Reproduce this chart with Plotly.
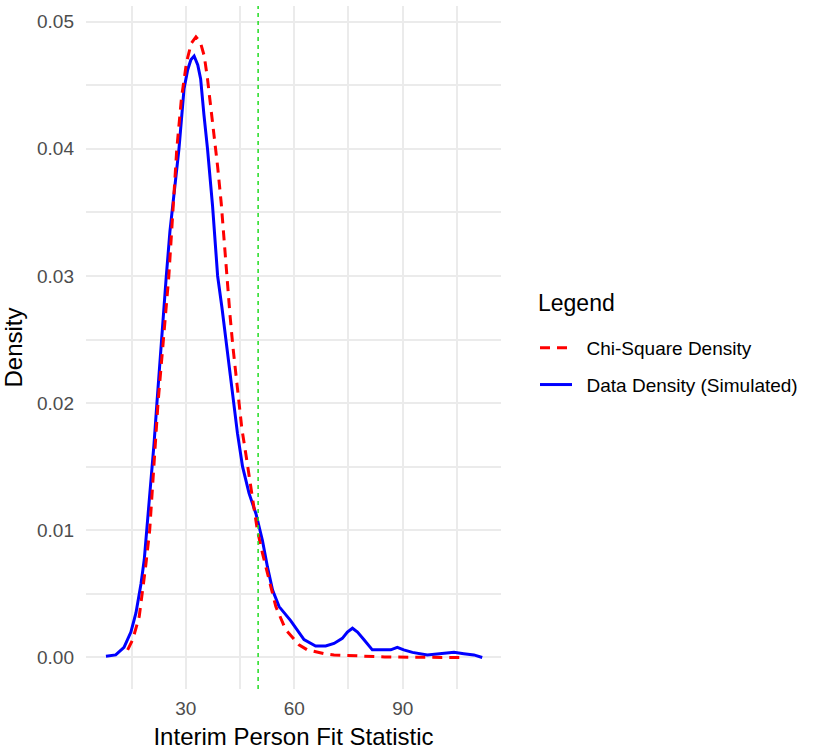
import plotly.graph_objects as go

# Data density (simulated)
blue_x = [7.9, 10.6, 12.9, 14.8, 16.2, 17.6, 18.5, 19.2, 20.3, 21.2, 22.0, 23.2, 24.6, 25.6,
          26.8, 28.1, 29.5, 30.5, 31.4, 32.3, 33.3, 34.1, 35.0, 36.0, 37.4, 38.8, 40.0, 41.1,
          42.2, 43.1, 44.3, 45.7, 47.5, 49.4, 50.5, 51.2, 52.6, 54.0, 55.8, 59.0, 62.7, 65.9,
          68.7, 71.0, 73.3, 74.7, 76.1, 77.5, 79.3, 81.6, 86.7, 88.5, 90.3, 92.7, 96.8, 100.5,
          104.2, 106.9, 109.7, 112.0]
blue_y = [0.0001, 0.0002, 0.0008, 0.0020, 0.0035, 0.0058, 0.0077, 0.0100, 0.0135, 0.0168,
          0.0200, 0.0248, 0.0300, 0.0335, 0.0368, 0.0400, 0.0447, 0.0462, 0.0470, 0.0473,
          0.0466, 0.0455, 0.0427, 0.0400, 0.0355, 0.0300, 0.0275, 0.0250, 0.0222, 0.0200,
          0.0176, 0.0150, 0.0129, 0.0113, 0.0100, 0.0092, 0.0071, 0.0053, 0.0040, 0.0029,
          0.0014, 0.0009, 0.0009, 0.0011, 0.0015, 0.0020, 0.0023, 0.0020, 0.0014, 0.0006,
          0.0006, 0.0008, 0.0006, 0.0004, 0.0002, 0.0003, 0.0004, 0.0003, 0.0002, 0.0000]

# Chi-square density
red_x = [13.9, 15.3, 17.1, 18.0, 18.9, 20.0, 21.2, 22.3, 23.8, 25.3, 26.4, 27.5, 28.8, 30.2,
         31.5, 32.8, 34.0, 35.1, 36.0, 36.9, 37.8, 38.8, 39.8, 40.5, 41.3, 42.2, 43.0, 43.8,
         44.6, 45.5, 46.6, 47.5, 48.4, 49.8, 51.2, 53.0, 54.9, 57.6, 61.3, 63.6, 68.2, 71.0,
         77.5, 85.0, 95.0, 106.0]
red_y = [0.0006, 0.0014, 0.0032, 0.0050, 0.0072, 0.0100, 0.0150, 0.0200, 0.0250, 0.0300,
         0.0350, 0.0400, 0.0440, 0.0468, 0.0483, 0.0488, 0.0484, 0.0473, 0.0455, 0.0434,
         0.0412, 0.0386, 0.0357, 0.0330, 0.0300, 0.0270, 0.0245, 0.0223, 0.0200, 0.0180,
         0.0160, 0.0142, 0.0124, 0.0100, 0.0082, 0.0061, 0.0040, 0.0022, 0.0010, 0.0006,
         0.0003, 0.0002, 0.0001, 0.00004, 0.00001, 0.0]

cutoff_x = 50
x_ticks = [30, 60, 90]
y_ticks = [0.00, 0.01, 0.02, 0.03, 0.04, 0.05]

FONT = "Liberation Sans, Arial, sans-serif"
W, H = 814, 750
ML, MT = 86, 6
MR = W - 501
MB = H - 689
PW = W - ML - MR
PH = H - MT - MB


def px_x(p):
    return (p - ML) / PW


def px_y(p):
    return 1 - (p - MT) / PH


fig = go.Figure()
fig.add_trace(go.Scatter(x=blue_x, y=blue_y, mode="lines",
                         name="\u2002Data Density (Simulated)",
                         line=dict(color="#0000FF", width=3), legendrank=2,
                         legendgroup="b"))
fig.add_trace(go.Scatter(x=red_x, y=red_y, mode="lines",
                         name="\u2002Chi-Square Density",
                         line=dict(color="#FF0000", width=3, dash="10px,7px"), legendrank=1,
                         legendgroup="a"))

fig.add_shape(type="line", x0=cutoff_x, x1=cutoff_x, xref="x", y0=0, y1=1, yref="paper",
              line=dict(color="#22DD22", width=1.5, dash="4px,4px"))

fig.add_annotation(text="Legend", xref="paper", yref="paper", x=px_x(536), y=px_y(303),
                   xanchor="left", yanchor="middle", showarrow=False,
                   font=dict(size=23, color="black"))

grid = "#EBEBEB"
fig.update_layout(
    width=W, height=H,
    margin=dict(l=ML, r=MR, t=MT, b=MB),
    paper_bgcolor="white", plot_bgcolor="white",
    font=dict(family=FONT, color="black"),
    showlegend=True,
    legend=dict(
        font=dict(size=19, color="black"),
        x=px_x(535), xanchor="left", y=px_y(329), yanchor="top",
        tracegroupgap=9, itemwidth=32, bgcolor="rgba(0,0,0,0)",
    ),
    xaxis=dict(
        range=[2.38, 117.2], tickvals=x_ticks, ticktext=[str(v) for v in x_ticks],
        showgrid=True, gridcolor=grid, gridwidth=2, zeroline=False, showline=False,
        ticks="", tickfont=dict(size=19, color="#4D4D4D"), automargin=False,
        ticklabelstandoff=6,
        minor=dict(tickvals=[15, 45, 75, 105], showgrid=True, gridcolor=grid, gridwidth=1.6),
        title=dict(text="Interim Person Fit Statistic", font=dict(size=24, color="black"),
                   standoff=10),
    ),
    yaxis=dict(
        range=[-0.00248, 0.05123], tickvals=y_ticks, ticktext=[f"{v:.2f}" for v in y_ticks],
        showgrid=True, gridcolor=grid, gridwidth=2, zeroline=False, showline=False,
        ticks="", tickfont=dict(size=19, color="#4D4D4D"), automargin=False,
        ticklabelstandoff=11,
        minor=dict(tickvals=[0.005, 0.015, 0.025, 0.035, 0.045], showgrid=True,
                   gridcolor=grid, gridwidth=1.6),
        title=dict(text="Density", font=dict(size=24, color="black"), standoff=17),
    ),
)

fig.write_html("out.html", config={"displayModeBar": False},
               post_script="document.body.style.margin='0';")
